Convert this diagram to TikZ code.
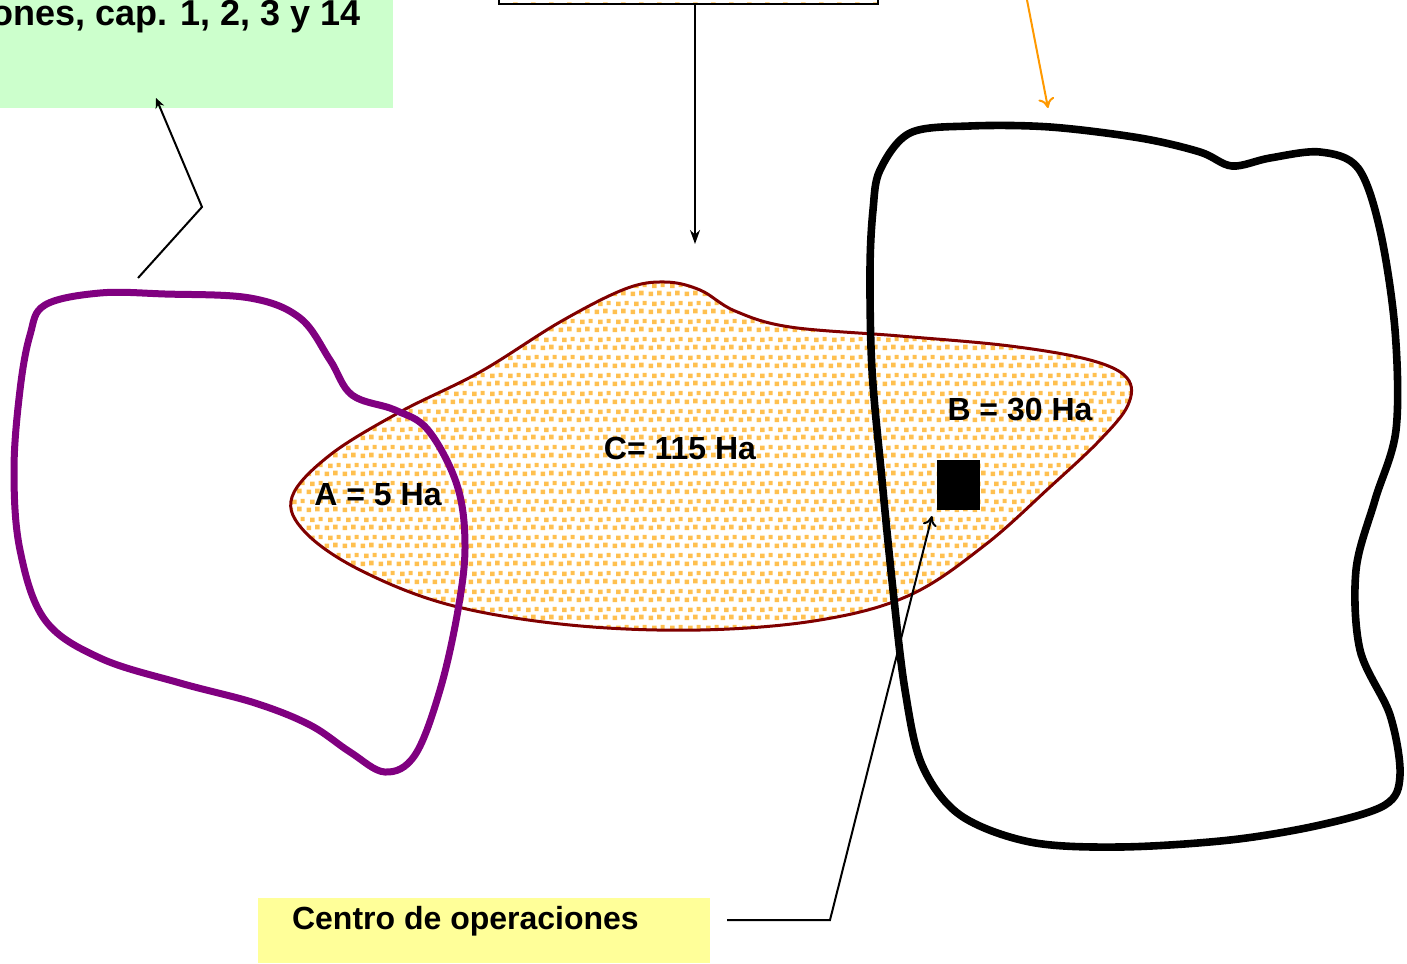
\documentclass[tikz,border=0pt]{standalone}
\usepackage{fontspec}
\setmainfont{Liberation Sans}
\usepackage{tikz}
\usetikzlibrary{patterns,arrows.meta}
\definecolor{dotorange}{RGB}{255,192,80}
\definecolor{lightgreen}{RGB}{204,255,204}
\definecolor{lightyellow}{RGB}{255,255,153}
\definecolor{regionred}{RGB}{128,0,0}
\definecolor{regionpurple}{RGB}{128,0,128}
\definecolor{arroworange}{RGB}{255,153,0}
\pgfdeclarepatternformonly{sanddots}{\pgfqpoint{0pt}{0pt}}{\pgfqpoint{9pt}{9pt}}{\pgfqpoint{9pt}{9pt}}{%
\pgfpathrectangle{\pgfqpoint{0.3pt}{0.4pt}}{\pgfqpoint{2.4pt}{2.4pt}}%
\pgfpathrectangle{\pgfqpoint{4.8pt}{0.9pt}}{\pgfqpoint{2.4pt}{2.4pt}}%
\pgfpathrectangle{\pgfqpoint{2.2pt}{4.7pt}}{\pgfqpoint{2.4pt}{2.4pt}}%
\pgfpathrectangle{\pgfqpoint{6.6pt}{5.2pt}}{\pgfqpoint{2.2pt}{2.2pt}}%
\pgfusepath{fill}}

\begin{document}
\begin{tikzpicture}[x=0.5pt,y=-0.5pt,>={Stealth[length=7pt,width=5pt]}]
 \tikzstyle{label} = [font=\fontsize{16}{19}\selectfont\bfseries]
 \tikzstyle{sand} = [pattern=sanddots,pattern color=dotorange]
 \tikzstyle{pointer} = [line width=1pt,->]
 \useasboundingbox (0,0) rectangle (1407,963);

  % Boxes
  \node[fill=lightgreen,minimum width=393*0.5pt,minimum height=160*0.5pt,anchor=south west,inner sep=0] (refbox) at (0,108) {};
  \node[label,font=\fontsize{18}{21}\selectfont\bfseries,anchor=base east] (reftext) at (368,26) {ones, cap. 1, 2, 3 y 14};
  \node[draw=black,line width=1.2pt,sand,minimum width=379*0.5pt,minimum height=60*0.5pt,anchor=south west,inner sep=0] (areabox) at (498,5) {};
  \node[fill=lightyellow,minimum width=452*0.5pt,minimum height=65*0.5pt,anchor=north west,inner sep=0] (centrebox) at (258,898) {};
  \node[label,anchor=base west] (centretext) at (285,929) {Centro de operaciones};

  % Region C
  \draw[regionred,line width=1.5pt,sand] plot[smooth cycle,tension=0.6] coordinates {
    (292,497) (330,455) (400,412) (480,372) (560,322) (625,289) (665,282)
    (700,290) (735,311) (790,327) (900,336) (1010,346) (1090,360) (1127,378)
    (1128,405) (1100,440) (1050,487) (985,545) (910,595) (820,620) (700,630)
    (570,625) (450,605) (360,570) (305,532)};

  % Region A
  \draw[regionpurple,line width=3.5pt] plot[smooth cycle,tension=0.6] coordinates {
    (45,305) (100,293) (165,294) (250,298) (300,318) (330,360) (352,395)
    (395,410) (428,430) (457,485) (465,545) (458,610) (440,690) (415,755)
    (385,772) (350,752) (310,725) (255,703) (180,683) (100,658) (45,620)
    (20,550) (14,470) (20,390) (30,335)};

  % Region B
  \draw[black,line width=3.8pt] plot[smooth cycle,tension=0.55] coordinates {
    (880,170) (910,133) (970,126) (1050,127) (1140,138) (1200,152) (1232,166)
    (1270,158) (1320,152) (1358,168) (1380,230) (1395,330) (1396,430)
    (1375,500) (1356,570) (1360,650) (1390,715) (1400,775) (1385,805)
    (1320,825) (1230,840) (1120,847) (1030,842) (960,815) (922,765)
    (905,690) (893,590) (882,480) (872,370) (870,270) (873,210)};

  \node[fill=black,minimum width=43*0.5pt,minimum height=50*0.5pt,inner sep=0] (office) at (958.5,485) {};

  % Labels
  \node[label] (labA) at (378,495) {A = 5 Ha};
  \node[label] (labC) at (680,448) {C= 115 Ha};
  \node[label] (labB) at (1020,410) {B = 30 Ha};

  % Pointers
  \coordinate (pA1) at (138,278);
  \coordinate (pA2) at (202,207);
  \coordinate (pA3) at (156,98);
  \draw[pointer,>={Stealth[length=5pt,width=4.5pt]}] (pA1) -- (pA2) -- (pA3);
  \coordinate (pC) at (695,244);
  \draw[pointer] (areabox.south -| pC) -- (pC);
  \coordinate (pB1) at (1027,0);
  \coordinate (pB2) at (1048,108);
  \draw[arroworange,line width=1pt,-{To[length=5pt,width=8pt]}] (pB1) -- (pB2);
  \coordinate (pO1) at (727,920);
  \coordinate (pO2) at (830,920);
  \coordinate (pO3) at (932,516);
  \draw[line width=1pt,-{To[length=5pt,width=7pt]}] (pO1) -- (pO2) -- (pO3);

\end{tikzpicture}
\end{document}
